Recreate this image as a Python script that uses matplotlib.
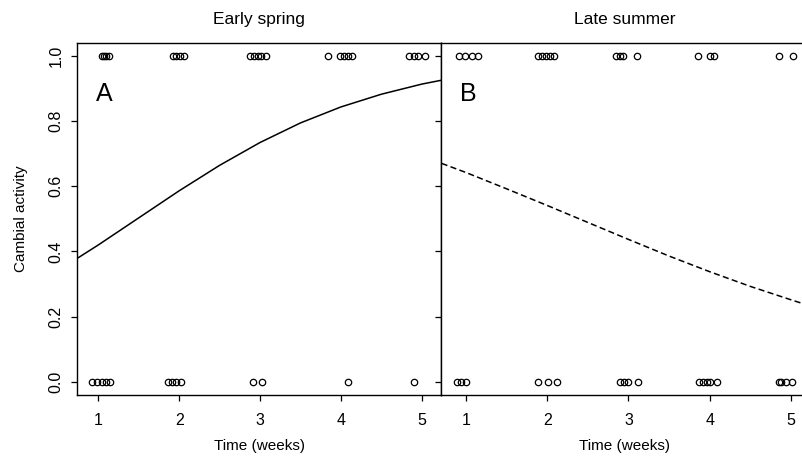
import matplotlib.pyplot as plt

plt.rcParams['font.family'] = ['Liberation Sans', 'DejaVu Sans']

# Observations (time in weeks, cambial activity 0/1)
spring_x1 = [1.04, 1.07, 1.10, 1.13, 1.92, 1.96, 2.01, 2.06,
             2.88, 2.93, 2.97, 3.01, 3.08, 3.84, 3.99, 4.04, 4.09, 4.14,
             4.84, 4.90, 4.96, 5.04]
spring_x0 = [0.92, 0.98, 1.04, 1.10, 1.14, 1.86, 1.91, 1.96, 2.02,
             2.91, 3.03, 4.09, 4.91]
summer_x1 = [0.91, 0.99, 1.07, 1.15, 1.89, 1.94, 1.99, 2.04, 2.08,
             2.85, 2.89, 2.93, 3.10, 3.86, 4.01, 4.05, 4.85, 5.03]
summer_x0 = [0.89, 0.94, 1.00, 1.89, 2.01, 2.12, 2.90, 2.95, 2.99, 3.12,
             3.87, 3.92, 3.97, 4.01, 4.09, 4.86, 4.88, 4.94, 5.01]

# Fitted curves
spring_curve_x = [0.74, 1.0, 1.5, 2.0, 2.5, 3.0, 3.5, 4.0, 4.5, 5.0, 5.245]
spring_curve_y = [0.379, 0.420, 0.503, 0.586, 0.664, 0.734, 0.794, 0.843, 0.882, 0.913, 0.925]
summer_curve_x = [0.70, 1.0, 1.5, 2.0, 2.5, 3.0, 3.5, 4.0, 4.5, 5.0, 5.2]
summer_curve_y = [0.670, 0.642, 0.592, 0.541, 0.489, 0.437, 0.386, 0.338, 0.293, 0.252, 0.236]

xticks = [1, 2, 3, 4, 5]
yticks = [0.0, 0.2, 0.4, 0.6, 0.8, 1.0]

fig = plt.figure(figsize=(8.03, 4.58), dpi=100)
W, H = 803, 458
axA = fig.add_axes([77.3 / W, 1 - 395 / H, (441.5 - 77.3) / W, (395 - 42.7) / H])
axB = fig.add_axes([441.5 / W, 1 - 395 / H, 365.6 / W, (395 - 42.7) / H])

marker_kw = dict(marker='o', ms=4.6, mfc='none', mec='black', mew=0.9, ls='none', clip_on=False)

axA.plot(spring_x1, [1] * len(spring_x1), **marker_kw)
axA.plot(spring_x0, [0] * len(spring_x0), **marker_kw)
axA.plot(spring_curve_x, spring_curve_y, color='black', lw=1.1)

axB.plot(summer_x1, [1] * len(summer_x1), **marker_kw)
axB.plot(summer_x0, [0] * len(summer_x0), **marker_kw)
axB.plot(summer_curve_x, summer_curve_y, color='black', lw=1.1, dashes=(4, 2.2))

for ax, title, letter, xl in [(axA, 'Early spring', 'A', (0.74, 5.245)),
                              (axB, 'Late summer', 'B', (0.698, 5.2))]:
    ax.set_xlim(xl)
    ax.set_ylim(-0.04, 1.04)
    ax.set_xticks(xticks)
    ax.set_yticks(yticks)
    ax.set_title(title, fontsize=12.5, pad=13.5)
    ax.set_xlabel('Time (weeks)', fontsize=11, labelpad=8)
    ax.text(0.05, 0.855, letter, transform=ax.transAxes, fontsize=18, va='center', ha='left')
    ax.tick_params(direction='out', length=4.5, width=0.9, labelsize=11.5, pad=5.5)
    ax.tick_params(axis='x', pad=8.5)
    for s in ax.spines.values():
        s.set_linewidth(1.0)

axA.set_yticklabels(['0.0', '0.2', '0.4', '0.6', '0.8', '1.0'], rotation=90, va='center')
axA.set_ylabel('Cambial activity', fontsize=11, labelpad=15)
axB.tick_params(axis='y', labelleft=False)

fig.savefig('out.png', dpi=100)
